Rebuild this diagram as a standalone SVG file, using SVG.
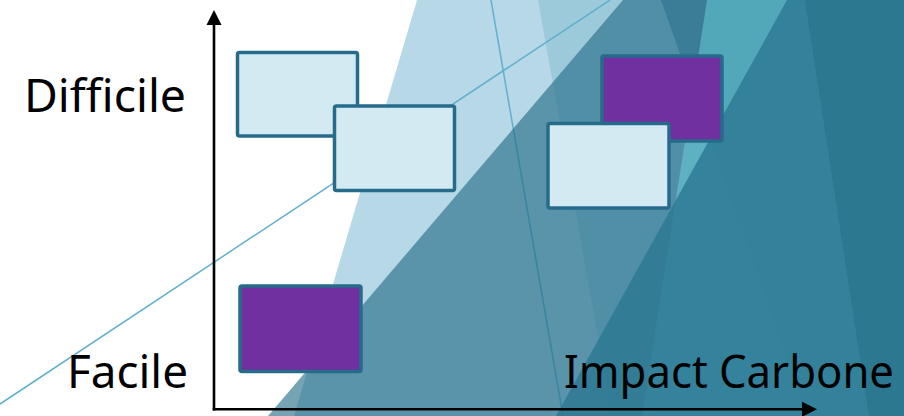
<svg xmlns="http://www.w3.org/2000/svg" width="904" height="416" viewBox="0 0 904 416">
  <defs>
    <style>
      .box { stroke: #266B8A; stroke-width: 3.5; }
      .light { fill: #D4EAF3; }
      .purple { fill: #7030A0; }
      .thin { stroke: #62AFCD; stroke-width: 1.5; fill: none; }
      .axis { stroke: #000000; stroke-width: 2.6; fill: none; }
      .lbl { font-family: "Noto Sans", "Open Sans", "DejaVu Sans", sans-serif; font-size: 45px; fill: #000000; }
    </style>
  </defs>
  <rect width="904" height="416" fill="#FFFFFF"/>
  <g id="background">
    <polygon points="417,0 904,0 904,416 294,416" fill="#B7D8E6"/>
    <polygon points="538,0 904,0 904,416 612,416" fill="#1081A3" fill-opacity="0.15"/>
    <line class="thin" x1="0" y1="404" x2="610" y2="0"/>
    <line class="thin" x1="491" y1="0" x2="563" y2="416"/>
    <polygon points="623,0 904,0 904,416 268,416" fill="#1C6782" fill-opacity="0.6"/>
    <polygon points="661,0 904,0 904,416 808,416" fill="#0C536F" fill-opacity="0.3"/>
    <polygon points="707,0 904,0 904,416 642,416" fill="#69D3D9" fill-opacity="0.5"/>
    <polygon points="787,0 904,0 904,416 556,416" fill="#2C7792" fill-opacity="0.8"/>
    <polygon points="805,0 904,0 904,416 869,416" fill="#1B6379" fill-opacity="0.3"/>
  </g>
  <g id="connectors">
    <line class="axis" x1="214" y1="410.5" x2="214" y2="24"/>
    <polygon points="214,10 206.5,25 221.5,25" fill="#000000"/>
    <line class="axis" x1="212.7" y1="409.3" x2="803" y2="409.3"/>
    <polygon points="817,409.3 802,401.8 802,416.8" fill="#000000"/>
  </g>
  <g id="node-1"><rect class="box light" x="237.5" y="52.5" width="120" height="83.5" rx="2"/></g>
  <g id="node-2"><rect class="box light" x="334.5" y="106" width="120" height="84.5" rx="2"/></g>
  <g id="node-3"><rect class="box purple" x="602" y="56" width="120" height="85" rx="2"/></g>
  <g id="node-4"><rect class="box light" x="548" y="123.5" width="121" height="84.5" rx="2"/></g>
  <g id="node-5"><rect class="box purple" x="240" y="286" width="121" height="85.5" rx="2"/></g>
  <g id="labels">
    <text class="lbl" x="24" y="112" textLength="162" lengthAdjust="spacingAndGlyphs">Difficile</text>
    <text class="lbl" x="67" y="388" textLength="121" lengthAdjust="spacingAndGlyphs">Facile</text>
    <text class="lbl" x="564" y="388" textLength="330" lengthAdjust="spacingAndGlyphs" style="font-size:46px">Impact Carbone</text>
  </g>
</svg>
